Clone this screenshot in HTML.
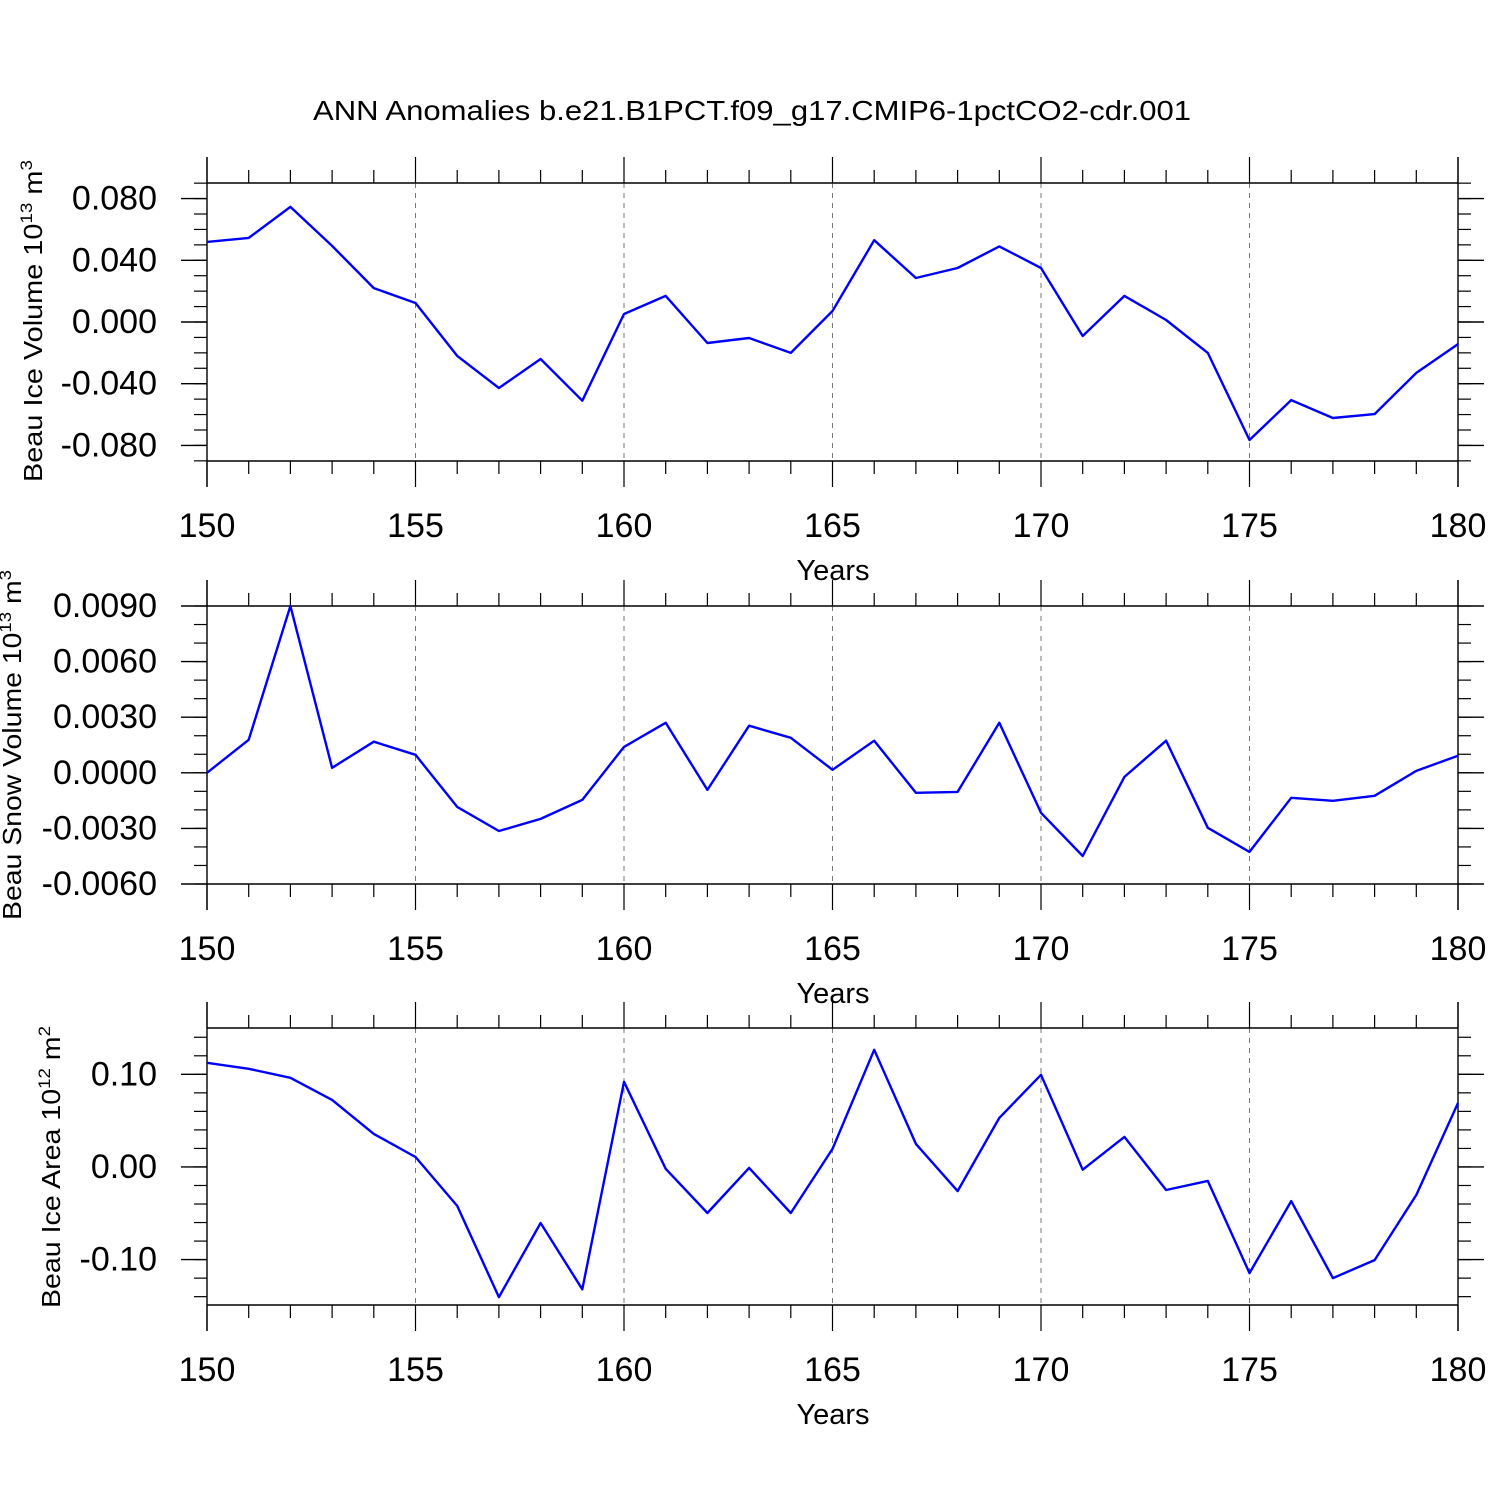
<!DOCTYPE html>
<html><head><meta charset="utf-8"><style>html,body{margin:0;padding:0;background:#fff}svg{display:block}</style></head>
<body>
<svg id="chart" width="1500" height="1500" xmlns="http://www.w3.org/2000/svg" font-family="Liberation Sans, sans-serif"></svg>
<script>
const years = [150,151,152,153,154,155,156,157,158,159,160,161,162,163,164,165,166,167,168,169,170,171,172,173,174,175,176,177,178,179,180];
const iceVolume = [0.0519,0.0545,0.0746,0.0493,0.022,0.0123,-0.022,-0.0428,-0.024,-0.051,0.0052,0.0169,-0.0136,-0.0104,-0.020,0.0071,0.053,0.0285,0.035,0.049,0.035,-0.0091,0.0169,0.0013,-0.020,-0.0765,-0.0506,-0.0622,-0.0597,-0.033,-0.0143];
const snowVolume = [0,0.00178,0.0090,0.00027,0.00168,0.00097,-0.00184,-0.00314,-0.00249,-0.00146,0.0014,0.0027,-0.00092,0.00254,0.00189,0.00016,0.00173,-0.00108,-0.00103,0.0027,-0.00216,-0.00449,-0.00022,0.00173,-0.00297,-0.00427,-0.00135,-0.00151,-0.00124,0.0001,0.00092];
const iceArea = [0.1124,0.106,0.0962,0.0724,0.0357,0.0108,-0.042,-0.1405,-0.0605,-0.132,0.0919,-0.002,-0.0497,-0.001,-0.0497,0.0195,0.1265,0.0249,-0.026,0.053,0.0995,-0.003,0.0324,-0.0249,-0.015,-0.1146,-0.0368,-0.12,-0.1005,-0.0303,0.069];
const xTicks = [150,155,160,165,170,175,180];
const iceVolTicks = [0.08,0.04,0,-0.04,-0.08];
const iceVolTickLabels = ["0.080","0.040","0.000","-0.040","-0.080"];
const snowTicks = [0.009,0.006,0.003,0,-0.003,-0.006];
const snowTickLabels = ["0.0090","0.0060","0.0030","0.0000","-0.0030","-0.0060"];
const areaTicks = [0.1,0,-0.1];
const areaTickLabels = ["0.10","0.00","-0.10"];

const svg = document.getElementById('chart');
const NS = 'http://www.w3.org/2000/svg';
function mk(tag, attrs, parent){const e=document.createElementNS(NS,tag);for(const k in attrs)e.setAttribute(k,attrs[k]);(parent||svg).appendChild(e);return e;}
const X0=207, X1=1458;
function xs(yr){return X0+(yr-150)*(X1-X0)/30;}

const t = mk('text',{x:752,y:120,'text-anchor':'middle','font-size':28,textLength:878,lengthAdjust:'spacingAndGlyphs'});
t.textContent='ANN Anomalies b.e21.B1PCT.f09_g17.CMIP6-1pctCO2-cdr.001';



function panel(cfg){
  const g = mk('g',{});
  
  
  const top=cfg.top, bot=cfg.bot;
  function ys(v){return top+(cfg.max-v)/(cfg.max-cfg.min)*(bot-top);}
  xTicks.forEach(v=>{ if(v>150&&v<180){const l=mk('line',{x1:xs(v),x2:xs(v),y1:top,y2:bot,stroke:'#777','stroke-width':1,'stroke-dasharray':'5,5'},g);
    
    }});
  const st={stroke:'#000','stroke-width':1.4};
  mk('line',Object.assign({x1:X0,x2:X1,y1:top,y2:top},st),g);
  mk('line',Object.assign({x1:X0,x2:X1,y1:bot,y2:bot},st),g);
  for(let yr=150;yr<=180;yr++){
    const major = yr%5===0; const L = major?26:13; const x=xs(yr);
    mk('line',{x1:x,x2:x,y1:top-L,y2:top,stroke:'#000','stroke-width':1.2},g);
    mk('line',{x1:x,x2:x,y1:bot,y2:bot+L,stroke:'#000','stroke-width':1.2},g);
  }
  mk('line',Object.assign({x1:X0,x2:X0,y1:top-26,y2:bot+26},st),g);
  mk('line',Object.assign({x1:X1,x2:X1,y1:top-26,y2:bot+26},st),g);
  xTicks.forEach(v=>{const tx=mk('text',{x:xs(v),y:bot+76,'text-anchor':'middle','font-size':34},g);tx.textContent=String(v);
    
    });
  const xt=mk('text',{x:833,y:bot+119,'text-anchor':'middle','font-size':29},g);xt.textContent='Years';
  
  
  const start=Math.ceil(cfg.min/cfg.minor-1e-6);
  for(let i=start;i*cfg.minor<=cfg.max+1e-9;i++){
    const v=i*cfg.minor; const y=ys(v);
    mk('line',{x1:X0-13,x2:X0,y1:y,y2:y,stroke:'#000','stroke-width':1.2},g);
    mk('line',{x1:X1,x2:X1+13,y1:y,y2:y,stroke:'#000','stroke-width':1.2},g);
  }
  cfg.ticks.forEach((v,i)=>{const y=ys(v);
    mk('line',{x1:X0-26,x2:X0,y1:y,y2:y,stroke:'#000','stroke-width':1.4},g);
    mk('line',{x1:X1,x2:X1+26,y1:y,y2:y,stroke:'#000','stroke-width':1.4},g);
    const tx=mk('text',{x:157,y:y+11,'text-anchor':'end','font-size':34},g);tx.textContent=cfg.labels[i];
    
    });
  const yt=mk('text',{transform:`translate(${cfg.tx},${cfg.tcy}) rotate(-90)`,'text-anchor':'middle','font-size':26,textLength:cfg.tlen,lengthAdjust:'spacingAndGlyphs'},g);
  yt.innerHTML=cfg.title+' 10<tspan dy="-10" font-size="17">'+cfg.exp+'</tspan><tspan dy="10"> m</tspan><tspan dy="-10" font-size="17">'+cfg.unitExp+'</tspan>';
  
  
  const pts=years.map((yr,i)=>xs(yr).toFixed(1)+','+ys(cfg.data[i]).toFixed(1)).join(' ');
  const pl=mk('polyline',{points:pts,fill:'none',stroke:'#0000ff','stroke-width':2.4,'stroke-linejoin':'round'},g);
  
  
}
panel({name:'ice-volume-panel',top:183,bot:461,max:0.0901,min:-0.0901,ticks:iceVolTicks,labels:iceVolTickLabels,minor:0.01,data:iceVolume,title:'Beau Ice Volume',exp:'13',unitExp:'3',tx:42,tcy:321,tlen:322});
panel({name:'snow-volume-panel',top:606,bot:884,max:0.009,min:-0.006,ticks:snowTicks,labels:snowTickLabels,minor:0.001,data:snowVolume,title:'Beau Snow Volume',exp:'13',unitExp:'3',tx:21,tcy:745,tlen:350});
panel({name:'ice-area-panel',top:1028,bot:1305,max:0.150,min:-0.149,ticks:areaTicks,labels:areaTickLabels,minor:0.02,data:iceArea,title:'Beau Ice Area',exp:'12',unitExp:'2',tx:60,tcy:1167,tlen:282});
</script>
</body></html>
